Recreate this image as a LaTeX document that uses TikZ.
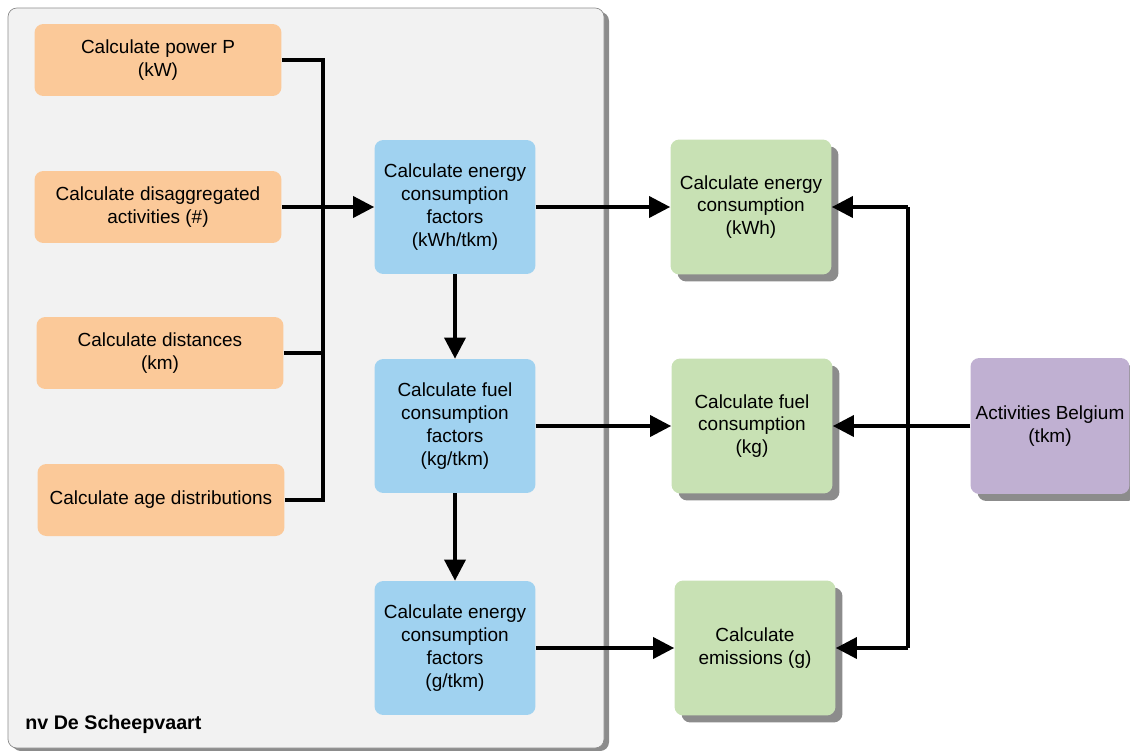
\documentclass[tikz,border=0pt]{standalone}
\usepackage{fontspec}
\setmainfont{Liberation Sans}
\usetikzlibrary{arrows.meta,shadows}

\definecolor{stepOrange}{RGB}{251,201,153}
\definecolor{stepBlue}{RGB}{160,210,240}
\definecolor{stepGreen}{RGB}{200,225,180}
\definecolor{stepPurple}{RGB}{192,176,210}
\definecolor{panelGray}{RGB}{242,242,242}

\begin{document}
\begin{tikzpicture}[
    x=0.02cm, y=-0.02cm,
    box/.style={rectangle, rounded corners=5pt, align=center, inner sep=2pt,
        font=\fontsize{10.8}{13}\selectfont},
    orangebox/.style={box, fill=stepOrange, minimum width=4.94cm, minimum height=1.44cm},
    bluebox/.style={box, fill=stepBlue, minimum width=3.22cm, minimum height=2.68cm},
    greenbox/.style={box, fill=stepGreen, minimum width=3.22cm, minimum height=2.7cm,
        drop shadow={shadow xshift=0.14cm, shadow yshift=-0.14cm, fill=black!45, opacity=1}},
    purplebox/.style={box, fill=stepPurple, minimum width=3.18cm, minimum height=2.72cm,
        drop shadow={shadow xshift=0.14cm, shadow yshift=-0.14cm, fill=black!45, opacity=1}},
    link/.style={line width=2pt},
    flow/.style={link, -{Triangle[length=12pt,width=12pt]}}
]
\useasboundingbox (0,0) rectangle (1130,751);

% panel of the shipping company
\fill[black!45, rounded corners=5pt] (12,12) rectangle (609,751);
\draw[black!45, fill=panelGray, rounded corners=5pt] (8,8) rectangle (604,748);
\node[anchor=west, inner sep=0pt, font=\fontsize{11.2}{13}\selectfont\bfseries] (company) at (25,724) {nv De Scheepvaart};

% inputs
\node[orangebox] (power) at (158,60) {Calculate power P\\(kW)};
\node[orangebox] (activities) at (158,207) {Calculate disaggregated\\activities (\#)};
\node[orangebox] (distances) at (160,353) {Calculate distances\\(km)};
\node[orangebox] (ages) at (161,500) {Calculate age distributions};

% factors
\node[bluebox] (energyfactor) at (455,207) {Calculate energy\\consumption\\factors\\(kWh/tkm)};
\node[bluebox] (fuelfactor) at (455,426) {Calculate fuel\\consumption\\factors\\(kg/tkm)};
\node[bluebox] (emisfactor) at (455,648) {Calculate energy\\consumption\\factors\\(g/tkm)};

% results
\node[greenbox] (energy) at (751,207) {Calculate energy\\consumption\\(kWh)};
\node[greenbox] (fuel) at (752,426) {Calculate fuel\\consumption\\(kg)};
\node[greenbox] (emissions) at (755,648) {Calculate\\emissions (g)};

\node[purplebox] (belgium) at (1050,426) {Activities Belgium\\(tkm)};

% collecting line on the left
\coordinate (bustop) at (323,60);
\coordinate (busbot) at (323,500);
\draw[link] (power.east) -- (bustop) -- (busbot) -- (ages.east);
\draw[link] (distances.east) -- (distances.east -| bustop);
\draw[flow] (activities.east) -- (energyfactor.west);

\draw[flow] (energyfactor.south) -- (fuelfactor.north);
\draw[flow] (fuelfactor.south) -- (emisfactor.north);

\draw[flow] (energyfactor.east) -- (energy.west);
\draw[flow] (fuelfactor.east) -- (fuel.west);
\draw[flow] (emisfactor.east) -- (emissions.west);

% distribution line on the right
\coordinate (rtop) at (908,207);
\coordinate (rbot) at (908,648);
\draw[link] (rtop) -- (rbot);
\draw[flow] (belgium.west) -- (fuel.east);
\draw[flow] (rtop) -- (energy.east);
\draw[flow] (rbot) -- (emissions.east);
\end{tikzpicture}
\end{document}
